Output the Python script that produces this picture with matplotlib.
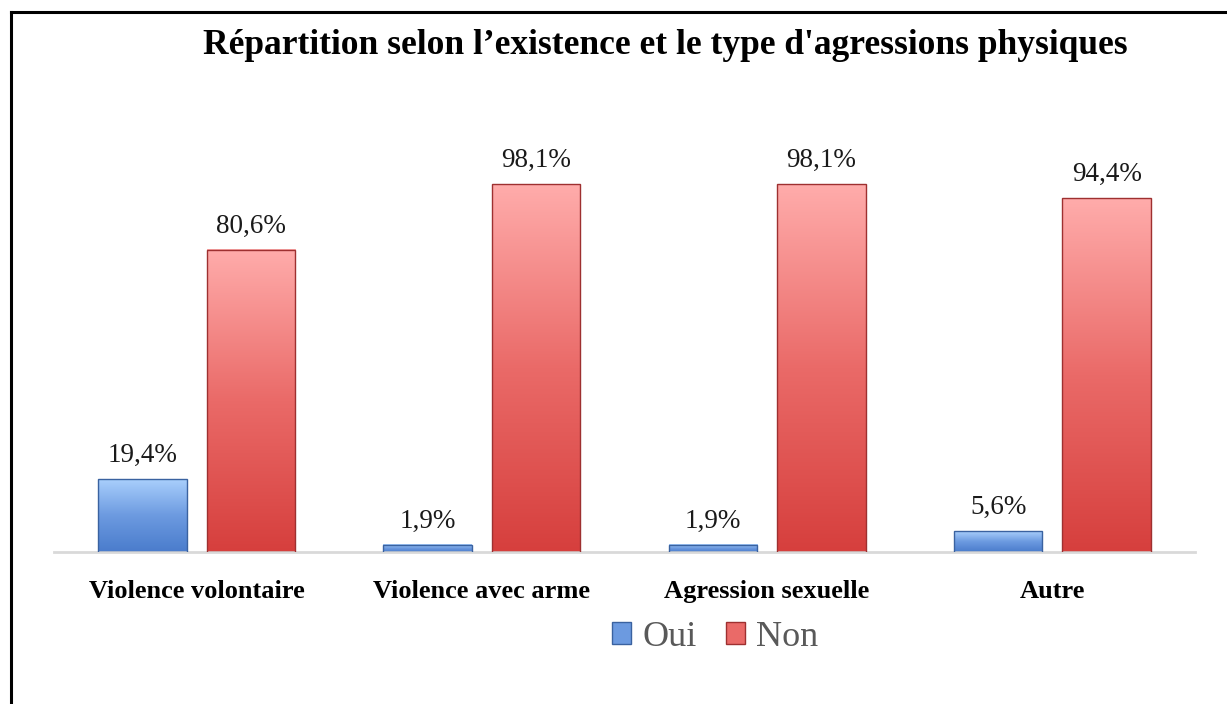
import matplotlib
matplotlib.use("Agg")
import matplotlib.pyplot as plt
import numpy as np
from matplotlib.colors import LinearSegmentedColormap
from matplotlib.patches import Rectangle
from matplotlib.lines import Line2D

categories = ["Violence volontaire", "Violence avec arme", "Agression sexuelle", "Autre"]
oui = [19.4, 1.9, 1.9, 5.6]
non = [80.6, 98.1, 98.1, 94.4]
series_names = ["Oui", "Non"]
title = "Répartition selon l’existence et le type d'agressions physiques"

W, H = 1227, 704
fig = plt.figure(figsize=(W / 100, H / 100), dpi=100)
fig.patch.set_facecolor("white")

# frame lines (top & left)
fig.add_artist(Line2D([11 / W, 11 / W], [0, 1 - 12 / H], color="black", lw=2.2, transform=fig.transFigure))
fig.add_artist(Line2D([11 / W, 1], [1 - 12 / H, 1 - 12 / H], color="black", lw=2.2, transform=fig.transFigure))

left, right, bottom, top = 54, 1195, 552, 177
ax = fig.add_axes([left / W, 1 - bottom / H, (right - left) / W, (bottom - top) / H])
ax.set_xlim(-0.5, len(categories) - 0.5)
ax.set_ylim(0, 100)
for s in ax.spines.values():
    s.set_visible(False)
ax.spines["bottom"].set_visible(True)
ax.spines["bottom"].set_color("#d9d9d9")
ax.spines["bottom"].set_linewidth(2)
ax.set_yticks([])
ax.tick_params(axis="x", length=0, pad=20)

x = np.arange(len(categories))
bw = 0.31
off = 0.19

cmap_b = LinearSegmentedColormap.from_list("b", ["#4a7ccc", "#6c9ae0", "#a9cffc"])
cmap_r = LinearSegmentedColormap.from_list("r", ["#d63f3d", "#ea6a68", "#ffacab"])
grad = np.linspace(0, 1, 256).reshape(-1, 1)

def gradient_bars(xs, vals, cmap, edge):
    bars = ax.bar(xs, vals, bw, color="none", edgecolor="none", zorder=2)
    for b in bars:
        x0, y0 = b.get_x(), b.get_y()
        w, h = b.get_width(), b.get_height()
        ax.imshow(grad, extent=[x0, x0 + w, y0, y0 + h], origin="lower", cmap=cmap,
                  aspect="auto", zorder=2, interpolation="bicubic")
        ax.add_patch(Rectangle((x0, y0), w, h, fill=False, edgecolor=edge, lw=1.0, zorder=3))
    return bars

gradient_bars(x - off, oui, cmap_b, "#3a62a0")
gradient_bars(x + off, non, cmap_r, "#9e3030")
ax.set_xlim(-0.5, len(categories) - 0.5)
ax.set_ylim(0, 100)

lab_font = "Liberation Serif"
for xi, v in zip(x - off, oui):
    ax.text(xi, v + 3.0, f"{v:.1f}".replace(".", ",") + "%", ha="center", va="bottom",
            fontsize=19.5, family=lab_font, color="#1a1a1a")
for xi, v in zip(x + off, non):
    ax.text(xi, v + 3.0, f"{v:.1f}".replace(".", ",") + "%", ha="center", va="bottom",
            fontsize=19.5, family=lab_font, color="#1a1a1a")

ax.set_xticks(x)
ax.set_xticklabels(categories, fontsize=19, fontweight="bold", family=lab_font, color="black")

fig.text(665 / W, 1 - 46 / H, title, ha="center", va="center", fontsize=25.5,
         fontweight="bold", family=lab_font, color="black")

# legend
handles = [Rectangle((0, 0), 1, 1, facecolor="#6c9ae0", edgecolor="#3a62a0"),
           Rectangle((0, 0), 1, 1, facecolor="#ea6a68", edgecolor="#9e3030")]
leg = fig.legend(handles, series_names, loc="center", bbox_to_anchor=(715 / W, 1 - 637 / H),
                 ncol=2, frameon=False, prop={"family": lab_font, "size": 26},
                 handlelength=0.55, handleheight=0.55, handletextpad=0.3, columnspacing=0.8)
for t in leg.get_texts():
    t.set_color("#595959")

fig.savefig("out.png", dpi=100, facecolor="white")
